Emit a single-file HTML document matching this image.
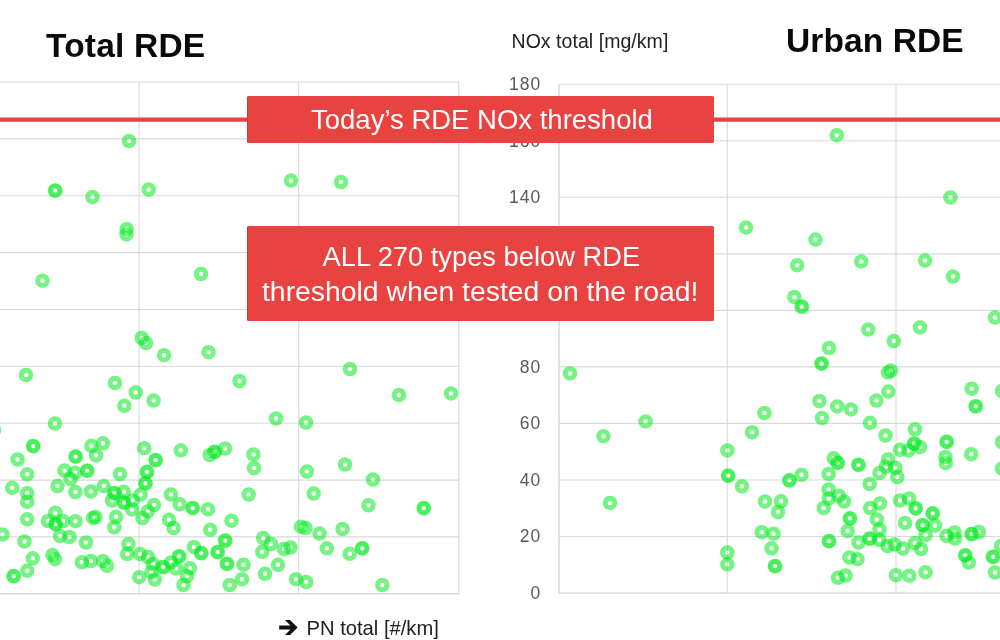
<!DOCTYPE html>
<html lang="en">
<head>
<meta charset="utf-8">
<title>RDE NOx vs PN</title>
<style>
html,body{margin:0;padding:0;background:#fff;}
body{width:1000px;height:640px;position:relative;overflow:hidden;font-family:"Liberation Sans",sans-serif;}
.chart{position:absolute;left:0;top:0;}
.t{position:absolute;white-space:nowrap;line-height:1;}
.title{font-weight:bold;font-size:33.5px;color:#0a0a0a;}
.ax{font-size:19.5px;color:#222;}
.yl{position:absolute;left:480px;width:61.2px;text-align:right;font-size:17.5px;line-height:19px;height:19px;color:#5a5a5c;letter-spacing:1px;}
.box{position:absolute;left:247px;width:467px;background:#e84341;color:#fff;border-radius:1.5px;box-shadow:inset 1px 0 0 rgba(160,40,40,0.35);}
.box .t{color:#fff;}
</style>
</head>
<body>
<svg class="chart" width="1000" height="640" viewBox="0 0 1000 640">
<line x1="0" y1="82.0" x2="459.3" y2="82.0" stroke="#d9d9d9" stroke-width="1.1"/>
<line x1="0" y1="138.9" x2="459.3" y2="138.9" stroke="#d9d9d9" stroke-width="1.1"/>
<line x1="0" y1="195.7" x2="459.3" y2="195.7" stroke="#d9d9d9" stroke-width="1.1"/>
<line x1="0" y1="252.6" x2="459.3" y2="252.6" stroke="#d9d9d9" stroke-width="1.1"/>
<line x1="0" y1="309.5" x2="459.3" y2="309.5" stroke="#d9d9d9" stroke-width="1.1"/>
<line x1="0" y1="366.3" x2="459.3" y2="366.3" stroke="#d9d9d9" stroke-width="1.1"/>
<line x1="0" y1="423.2" x2="459.3" y2="423.2" stroke="#d9d9d9" stroke-width="1.1"/>
<line x1="0" y1="480.1" x2="459.3" y2="480.1" stroke="#d9d9d9" stroke-width="1.1"/>
<line x1="0" y1="536.9" x2="459.3" y2="536.9" stroke="#d9d9d9" stroke-width="1.1"/>
<line x1="0" y1="593.8" x2="459.3" y2="593.8" stroke="#d9d9d9" stroke-width="1.5"/>
<line x1="139" y1="82" x2="139" y2="593.8" stroke="#d9d9d9" stroke-width="1.1"/>
<line x1="298.7" y1="82" x2="298.7" y2="593.8" stroke="#d9d9d9" stroke-width="1.1"/>
<line x1="458.8" y1="82" x2="458.8" y2="593.8" stroke="#d9d9d9" stroke-width="1.1"/>
<line x1="559" y1="84.3" x2="1000" y2="84.3" stroke="#d9d9d9" stroke-width="1.1"/>
<line x1="559" y1="140.8" x2="1000" y2="140.8" stroke="#d9d9d9" stroke-width="1.1"/>
<line x1="559" y1="197.3" x2="1000" y2="197.3" stroke="#d9d9d9" stroke-width="1.1"/>
<line x1="559" y1="253.9" x2="1000" y2="253.9" stroke="#d9d9d9" stroke-width="1.1"/>
<line x1="559" y1="310.4" x2="1000" y2="310.4" stroke="#d9d9d9" stroke-width="1.1"/>
<line x1="559" y1="366.9" x2="1000" y2="366.9" stroke="#d9d9d9" stroke-width="1.1"/>
<line x1="559" y1="423.4" x2="1000" y2="423.4" stroke="#d9d9d9" stroke-width="1.1"/>
<line x1="559" y1="480.0" x2="1000" y2="480.0" stroke="#d9d9d9" stroke-width="1.1"/>
<line x1="559" y1="536.5" x2="1000" y2="536.5" stroke="#d9d9d9" stroke-width="1.1"/>
<line x1="559" y1="593.0" x2="1000" y2="593.0" stroke="#d9d9d9" stroke-width="1.5"/>
<line x1="559" y1="84.3" x2="559" y2="593" stroke="#d9d9d9" stroke-width="1.5"/>
<line x1="727.3" y1="84.3" x2="727.3" y2="593" stroke="#d9d9d9" stroke-width="1.1"/>
<line x1="896" y1="84.3" x2="896" y2="593" stroke="#d9d9d9" stroke-width="1.1"/>
<line x1="0" y1="119.6" x2="1000" y2="119.6" stroke="#e84341" stroke-width="4.4"/>
<g fill="none" stroke="#00e81e" stroke-opacity="0.54" stroke-width="5" style="filter:blur(0.7px)">
<circle cx="129.0" cy="141.0" r="4.75"/>
<circle cx="55.0" cy="190.5" r="4.75"/>
<circle cx="55.5" cy="190.8" r="4.75" stroke-opacity="0.38"/>
<circle cx="92.5" cy="197.0" r="4.75"/>
<circle cx="148.7" cy="189.5" r="4.75"/>
<circle cx="126.7" cy="229.0" r="4.75"/>
<circle cx="126.5" cy="234.4" r="4.75"/>
<circle cx="42.5" cy="280.7" r="4.75"/>
<circle cx="201.0" cy="274.0" r="4.75"/>
<circle cx="291.0" cy="180.6" r="4.75"/>
<circle cx="341.0" cy="182.0" r="4.75"/>
<circle cx="141.7" cy="338.0" r="4.75"/>
<circle cx="146.0" cy="343.0" r="4.75"/>
<circle cx="164.0" cy="355.2" r="4.75"/>
<circle cx="208.5" cy="352.2" r="4.75"/>
<circle cx="239.5" cy="381.0" r="4.75"/>
<circle cx="26.0" cy="375.0" r="4.75"/>
<circle cx="115.0" cy="383.0" r="4.75"/>
<circle cx="135.7" cy="392.5" r="4.75"/>
<circle cx="153.6" cy="400.5" r="4.75"/>
<circle cx="124.3" cy="405.8" r="4.75"/>
<circle cx="350.0" cy="369.0" r="4.75"/>
<circle cx="399.0" cy="395.0" r="4.75"/>
<circle cx="451.0" cy="393.4" r="4.75"/>
<circle cx="276.0" cy="418.5" r="4.75"/>
<circle cx="306.0" cy="422.5" r="4.75"/>
<circle cx="55.0" cy="423.6" r="4.75"/>
<circle cx="-6.0" cy="430.0" r="4.75"/>
<circle cx="33.0" cy="446.0" r="4.75"/>
<circle cx="33.5" cy="446.3" r="4.75" stroke-opacity="0.38"/>
<circle cx="17.6" cy="459.5" r="4.75"/>
<circle cx="27.2" cy="474.3" r="4.75"/>
<circle cx="12.2" cy="487.8" r="4.75"/>
<circle cx="27.2" cy="493.2" r="4.75"/>
<circle cx="27.2" cy="501.8" r="4.75"/>
<circle cx="91.3" cy="445.8" r="4.75"/>
<circle cx="103.0" cy="443.3" r="4.75"/>
<circle cx="96.0" cy="455.4" r="4.75"/>
<circle cx="75.5" cy="456.5" r="4.75"/>
<circle cx="76.0" cy="456.8" r="4.75" stroke-opacity="0.38"/>
<circle cx="64.5" cy="470.5" r="4.75"/>
<circle cx="75.1" cy="472.8" r="4.75"/>
<circle cx="70.5" cy="479.0" r="4.75"/>
<circle cx="87.0" cy="470.6" r="4.75"/>
<circle cx="87.5" cy="470.90000000000003" r="4.75" stroke-opacity="0.38"/>
<circle cx="57.5" cy="486.1" r="4.75"/>
<circle cx="75.4" cy="492.0" r="4.75"/>
<circle cx="90.9" cy="491.4" r="4.75"/>
<circle cx="103.8" cy="486.1" r="4.75"/>
<circle cx="120.0" cy="474.0" r="4.75"/>
<circle cx="114.2" cy="493.0" r="4.75"/>
<circle cx="114.7" cy="493.3" r="4.75" stroke-opacity="0.38"/>
<circle cx="123.7" cy="491.8" r="4.75"/>
<circle cx="144.2" cy="448.2" r="4.75"/>
<circle cx="155.5" cy="460.0" r="4.75"/>
<circle cx="156.0" cy="460.3" r="4.75" stroke-opacity="0.38"/>
<circle cx="146.8" cy="471.8" r="4.75"/>
<circle cx="147.3" cy="472.1" r="4.75" stroke-opacity="0.38"/>
<circle cx="145.3" cy="483.2" r="4.75"/>
<circle cx="145.8" cy="483.5" r="4.75" stroke-opacity="0.38"/>
<circle cx="140.6" cy="494.6" r="4.75"/>
<circle cx="154.0" cy="505.0" r="4.75"/>
<circle cx="180.8" cy="450.3" r="4.75"/>
<circle cx="209.7" cy="455.0" r="4.75"/>
<circle cx="214.4" cy="451.7" r="4.75"/>
<circle cx="214.9" cy="452.0" r="4.75" stroke-opacity="0.38"/>
<circle cx="225.0" cy="448.6" r="4.75"/>
<circle cx="253.4" cy="454.4" r="4.75"/>
<circle cx="254.0" cy="468.0" r="4.75"/>
<circle cx="307.0" cy="471.5" r="4.75"/>
<circle cx="345.0" cy="464.5" r="4.75"/>
<circle cx="373.0" cy="479.5" r="4.75"/>
<circle cx="27.2" cy="519.3" r="4.75"/>
<circle cx="55.3" cy="512.7" r="4.75"/>
<circle cx="48.0" cy="521.0" r="4.75"/>
<circle cx="55.5" cy="524.0" r="4.75"/>
<circle cx="56.0" cy="524.3" r="4.75" stroke-opacity="0.38"/>
<circle cx="63.0" cy="521.0" r="4.75"/>
<circle cx="75.5" cy="521.2" r="4.75"/>
<circle cx="93.0" cy="518.0" r="4.75"/>
<circle cx="95.5" cy="517.0" r="4.75"/>
<circle cx="2.5" cy="534.5" r="4.75"/>
<circle cx="24.5" cy="541.5" r="4.75"/>
<circle cx="60.0" cy="536.0" r="4.75"/>
<circle cx="69.5" cy="537.0" r="4.75"/>
<circle cx="86.0" cy="542.5" r="4.75"/>
<circle cx="112.0" cy="500.5" r="4.75"/>
<circle cx="123.8" cy="502.5" r="4.75"/>
<circle cx="124.3" cy="502.8" r="4.75" stroke-opacity="0.38"/>
<circle cx="132.5" cy="500.5" r="4.75"/>
<circle cx="132.0" cy="509.5" r="4.75"/>
<circle cx="147.8" cy="511.5" r="4.75"/>
<circle cx="142.5" cy="518.0" r="4.75"/>
<circle cx="116.0" cy="516.8" r="4.75"/>
<circle cx="114.3" cy="527.3" r="4.75"/>
<circle cx="170.9" cy="494.5" r="4.75"/>
<circle cx="179.7" cy="504.3" r="4.75"/>
<circle cx="192.5" cy="507.9" r="4.75"/>
<circle cx="193.0" cy="508.2" r="4.75" stroke-opacity="0.38"/>
<circle cx="169.0" cy="519.8" r="4.75"/>
<circle cx="173.5" cy="528.0" r="4.75"/>
<circle cx="128.5" cy="544.0" r="4.75"/>
<circle cx="194.0" cy="547.0" r="4.75"/>
<circle cx="32.8" cy="558.3" r="4.75"/>
<circle cx="27.2" cy="570.8" r="4.75"/>
<circle cx="13.5" cy="576.0" r="4.75"/>
<circle cx="14.0" cy="576.3" r="4.75" stroke-opacity="0.38"/>
<circle cx="52.5" cy="555.0" r="4.75"/>
<circle cx="55.0" cy="559.2" r="4.75"/>
<circle cx="81.8" cy="562.3" r="4.75"/>
<circle cx="90.8" cy="561.0" r="4.75"/>
<circle cx="103.0" cy="561.0" r="4.75"/>
<circle cx="107.0" cy="565.8" r="4.75"/>
<circle cx="127.2" cy="554.0" r="4.75"/>
<circle cx="140.0" cy="554.0" r="4.75"/>
<circle cx="148.0" cy="557.0" r="4.75"/>
<circle cx="153.0" cy="564.0" r="4.75"/>
<circle cx="163.0" cy="567.0" r="4.75"/>
<circle cx="163.5" cy="567.3" r="4.75" stroke-opacity="0.38"/>
<circle cx="151.5" cy="572.0" r="4.75"/>
<circle cx="139.2" cy="577.2" r="4.75"/>
<circle cx="154.8" cy="579.5" r="4.75"/>
<circle cx="179.0" cy="556.2" r="4.75"/>
<circle cx="179.5" cy="556.5" r="4.75" stroke-opacity="0.38"/>
<circle cx="171.0" cy="562.5" r="4.75"/>
<circle cx="176.0" cy="568.5" r="4.75"/>
<circle cx="190.0" cy="568.2" r="4.75"/>
<circle cx="187.0" cy="576.0" r="4.75"/>
<circle cx="183.5" cy="585.0" r="4.75"/>
<circle cx="201.0" cy="553.0" r="4.75"/>
<circle cx="201.5" cy="553.3" r="4.75" stroke-opacity="0.38"/>
<circle cx="248.7" cy="494.5" r="4.75"/>
<circle cx="208.0" cy="509.2" r="4.75"/>
<circle cx="231.5" cy="520.7" r="4.75"/>
<circle cx="210.2" cy="529.8" r="4.75"/>
<circle cx="225.0" cy="540.5" r="4.75"/>
<circle cx="225.5" cy="540.8" r="4.75" stroke-opacity="0.38"/>
<circle cx="263.2" cy="538.0" r="4.75"/>
<circle cx="271.0" cy="544.0" r="4.75"/>
<circle cx="301.0" cy="526.7" r="4.75"/>
<circle cx="305.5" cy="528.0" r="4.75"/>
<circle cx="217.5" cy="552.0" r="4.75"/>
<circle cx="218.0" cy="552.3" r="4.75" stroke-opacity="0.38"/>
<circle cx="226.8" cy="563.7" r="4.75"/>
<circle cx="227.3" cy="564.0" r="4.75" stroke-opacity="0.38"/>
<circle cx="243.5" cy="564.7" r="4.75"/>
<circle cx="242.0" cy="579.2" r="4.75"/>
<circle cx="229.7" cy="585.0" r="4.75"/>
<circle cx="262.2" cy="551.8" r="4.75"/>
<circle cx="284.0" cy="549.0" r="4.75"/>
<circle cx="290.5" cy="547.5" r="4.75"/>
<circle cx="278.0" cy="564.8" r="4.75"/>
<circle cx="265.0" cy="573.8" r="4.75"/>
<circle cx="296.0" cy="579.2" r="4.75"/>
<circle cx="313.7" cy="493.6" r="4.75"/>
<circle cx="368.5" cy="505.3" r="4.75"/>
<circle cx="319.5" cy="533.6" r="4.75"/>
<circle cx="342.5" cy="529.0" r="4.75"/>
<circle cx="326.8" cy="548.3" r="4.75"/>
<circle cx="349.7" cy="553.8" r="4.75"/>
<circle cx="362.0" cy="548.2" r="4.75"/>
<circle cx="362.5" cy="548.5" r="4.75" stroke-opacity="0.38"/>
<circle cx="306.2" cy="582.0" r="4.75"/>
<circle cx="382.3" cy="585.0" r="4.75"/>
<circle cx="423.6" cy="508.0" r="4.75"/>
<circle cx="424.1" cy="508.3" r="4.75" stroke-opacity="0.38"/>
<circle cx="836.8" cy="135.2" r="4.75"/>
<circle cx="746.0" cy="227.6" r="4.75"/>
<circle cx="815.5" cy="239.6" r="4.75"/>
<circle cx="950.4" cy="197.4" r="4.75"/>
<circle cx="797.2" cy="265.2" r="4.75"/>
<circle cx="861.2" cy="261.4" r="4.75"/>
<circle cx="925.0" cy="260.6" r="4.75"/>
<circle cx="953.0" cy="276.6" r="4.75"/>
<circle cx="794.4" cy="297.0" r="4.75"/>
<circle cx="801.6" cy="306.6" r="4.75"/>
<circle cx="802.1" cy="306.90000000000003" r="4.75" stroke-opacity="0.38"/>
<circle cx="995.0" cy="317.6" r="4.75"/>
<circle cx="868.2" cy="329.6" r="4.75"/>
<circle cx="920.0" cy="327.4" r="4.75"/>
<circle cx="893.8" cy="341.0" r="4.75"/>
<circle cx="829.0" cy="348.0" r="4.75"/>
<circle cx="821.4" cy="363.4" r="4.75"/>
<circle cx="821.9" cy="363.7" r="4.75" stroke-opacity="0.38"/>
<circle cx="891.0" cy="370.6" r="4.75"/>
<circle cx="888.0" cy="372.5" r="4.75"/>
<circle cx="570.0" cy="373.4" r="4.75"/>
<circle cx="645.6" cy="421.4" r="4.75"/>
<circle cx="603.4" cy="436.2" r="4.75"/>
<circle cx="610.0" cy="502.9" r="4.75"/>
<circle cx="764.4" cy="413.0" r="4.75"/>
<circle cx="752.0" cy="432.2" r="4.75"/>
<circle cx="727.4" cy="450.4" r="4.75"/>
<circle cx="728.0" cy="475.6" r="4.75"/>
<circle cx="728.5" cy="475.90000000000003" r="4.75" stroke-opacity="0.38"/>
<circle cx="742.0" cy="486.3" r="4.75"/>
<circle cx="819.4" cy="401.0" r="4.75"/>
<circle cx="822.0" cy="418.0" r="4.75"/>
<circle cx="837.2" cy="406.4" r="4.75"/>
<circle cx="851.0" cy="409.4" r="4.75"/>
<circle cx="876.4" cy="400.6" r="4.75"/>
<circle cx="888.4" cy="391.6" r="4.75"/>
<circle cx="870.0" cy="422.8" r="4.75"/>
<circle cx="885.5" cy="435.5" r="4.75"/>
<circle cx="833.7" cy="458.3" r="4.75"/>
<circle cx="837.5" cy="462.8" r="4.75"/>
<circle cx="838.0" cy="463.1" r="4.75" stroke-opacity="0.38"/>
<circle cx="828.7" cy="474.0" r="4.75"/>
<circle cx="858.3" cy="464.7" r="4.75"/>
<circle cx="858.8" cy="465.0" r="4.75" stroke-opacity="0.38"/>
<circle cx="888.1" cy="459.2" r="4.75"/>
<circle cx="879.5" cy="473.0" r="4.75"/>
<circle cx="886.0" cy="466.5" r="4.75"/>
<circle cx="895.3" cy="467.7" r="4.75"/>
<circle cx="869.7" cy="484.0" r="4.75"/>
<circle cx="897.3" cy="477.0" r="4.75"/>
<circle cx="900.0" cy="449.8" r="4.75"/>
<circle cx="789.2" cy="480.3" r="4.75"/>
<circle cx="789.7" cy="480.6" r="4.75" stroke-opacity="0.38"/>
<circle cx="801.5" cy="474.8" r="4.75"/>
<circle cx="828.6" cy="489.5" r="4.75"/>
<circle cx="971.7" cy="388.7" r="4.75"/>
<circle cx="975.5" cy="406.2" r="4.75"/>
<circle cx="976.0" cy="406.5" r="4.75" stroke-opacity="0.38"/>
<circle cx="1002.0" cy="391.0" r="4.75"/>
<circle cx="915.0" cy="429.3" r="4.75"/>
<circle cx="914.0" cy="443.5" r="4.75"/>
<circle cx="914.5" cy="443.8" r="4.75" stroke-opacity="0.38"/>
<circle cx="908.5" cy="450.5" r="4.75"/>
<circle cx="920.0" cy="447.0" r="4.75"/>
<circle cx="946.5" cy="441.7" r="4.75"/>
<circle cx="947.0" cy="442.0" r="4.75" stroke-opacity="0.38"/>
<circle cx="945.5" cy="457.0" r="4.75"/>
<circle cx="945.8" cy="463.2" r="4.75"/>
<circle cx="971.2" cy="454.2" r="4.75"/>
<circle cx="1002.0" cy="442.0" r="4.75"/>
<circle cx="1002.0" cy="468.5" r="4.75"/>
<circle cx="765.0" cy="501.5" r="4.75"/>
<circle cx="781.0" cy="501.3" r="4.75"/>
<circle cx="778.0" cy="512.0" r="4.75"/>
<circle cx="761.7" cy="532.2" r="4.75"/>
<circle cx="773.5" cy="533.7" r="4.75"/>
<circle cx="771.5" cy="548.3" r="4.75"/>
<circle cx="774.8" cy="566.0" r="4.75"/>
<circle cx="775.3" cy="566.3" r="4.75" stroke-opacity="0.38"/>
<circle cx="727.3" cy="552.5" r="4.75"/>
<circle cx="727.3" cy="564.3" r="4.75"/>
<circle cx="828.8" cy="498.5" r="4.75"/>
<circle cx="839.0" cy="495.8" r="4.75"/>
<circle cx="844.0" cy="501.5" r="4.75"/>
<circle cx="823.7" cy="508.0" r="4.75"/>
<circle cx="849.7" cy="518.3" r="4.75"/>
<circle cx="850.2" cy="518.5999999999999" r="4.75" stroke-opacity="0.38"/>
<circle cx="847.7" cy="531.0" r="4.75"/>
<circle cx="880.0" cy="503.5" r="4.75"/>
<circle cx="870.2" cy="508.0" r="4.75"/>
<circle cx="876.8" cy="519.5" r="4.75"/>
<circle cx="879.5" cy="529.5" r="4.75"/>
<circle cx="900.0" cy="500.5" r="4.75"/>
<circle cx="909.0" cy="498.5" r="4.75"/>
<circle cx="915.5" cy="508.2" r="4.75"/>
<circle cx="916.0" cy="508.5" r="4.75" stroke-opacity="0.38"/>
<circle cx="932.5" cy="513.3" r="4.75"/>
<circle cx="933.0" cy="513.5999999999999" r="4.75" stroke-opacity="0.38"/>
<circle cx="905.0" cy="523.0" r="4.75"/>
<circle cx="922.5" cy="525.0" r="4.75"/>
<circle cx="923.0" cy="525.3" r="4.75" stroke-opacity="0.38"/>
<circle cx="935.0" cy="525.5" r="4.75"/>
<circle cx="925.5" cy="535.0" r="4.75"/>
<circle cx="946.5" cy="535.8" r="4.75"/>
<circle cx="954.5" cy="532.5" r="4.75"/>
<circle cx="955.0" cy="538.5" r="4.75"/>
<circle cx="971.5" cy="534.0" r="4.75"/>
<circle cx="972.0" cy="534.3" r="4.75" stroke-opacity="0.38"/>
<circle cx="979.0" cy="532.0" r="4.75"/>
<circle cx="887.5" cy="546.0" r="4.75"/>
<circle cx="894.5" cy="544.5" r="4.75"/>
<circle cx="903.0" cy="548.5" r="4.75"/>
<circle cx="915.0" cy="543.0" r="4.75"/>
<circle cx="921.0" cy="549.0" r="4.75"/>
<circle cx="828.8" cy="541.0" r="4.75"/>
<circle cx="829.3" cy="541.3" r="4.75" stroke-opacity="0.38"/>
<circle cx="858.5" cy="542.5" r="4.75"/>
<circle cx="869.5" cy="538.5" r="4.75"/>
<circle cx="870.0" cy="538.8" r="4.75" stroke-opacity="0.38"/>
<circle cx="879.5" cy="540.0" r="4.75"/>
<circle cx="849.5" cy="557.5" r="4.75"/>
<circle cx="857.5" cy="559.2" r="4.75"/>
<circle cx="838.0" cy="577.8" r="4.75"/>
<circle cx="845.5" cy="575.5" r="4.75"/>
<circle cx="895.8" cy="575.2" r="4.75"/>
<circle cx="925.5" cy="572.3" r="4.75"/>
<circle cx="909.3" cy="575.7" r="4.75"/>
<circle cx="965.0" cy="555.2" r="4.75"/>
<circle cx="965.5" cy="555.5" r="4.75" stroke-opacity="0.38"/>
<circle cx="968.8" cy="562.5" r="4.75"/>
<circle cx="992.8" cy="556.8" r="4.75"/>
<circle cx="993.3" cy="557.0999999999999" r="4.75" stroke-opacity="0.38"/>
<circle cx="995.0" cy="572.5" r="4.75"/>
<circle cx="1001.0" cy="546.0" r="4.75"/>
</g>
</svg>
<div class="yl" style="top:75.0px">180</div>
<div class="yl" style="top:131.5px">160</div>
<div class="yl" style="top:188.0px">140</div>
<div class="yl" style="top:357.6px">80</div>
<div class="yl" style="top:414.1px">60</div>
<div class="yl" style="top:470.7px">40</div>
<div class="yl" style="top:527.2px">20</div>
<div class="yl" style="top:583.7px">0</div>
<div class="t title" id="t1" style="left:46px;top:29px;letter-spacing:0.2px;">Total RDE</div>
<div class="t title" id="t2" style="left:786px;top:24px;letter-spacing:0.1px;">Urban RDE</div>
<div class="t ax" id="t3" style="left:511.5px;top:31.5px;letter-spacing:0.05px;">NOx total [mg/km]</div>
<svg class="arrow" width="24" height="20" viewBox="276 618 24 20" style="position:absolute;left:276px;top:618px;"><path d="M285 620.1 L290 620.1 L297.6 627.6 L290 635 L285 635 L290.4 629.6 L279.2 629.6 L279.2 625.6 L290.4 625.6 Z" fill="#111"/></svg>
<div class="t ax" id="t4" style="left:306.5px;top:617.5px;font-size:20.2px;">PN total [#/km]</div>
<div class="box" style="top:96.3px;height:46.8px;"><div class="t" id="b1" style="left:64px;top:9.7px;font-size:27.5px;">Today’s RDE NOx threshold</div></div>
<div class="box" style="top:226.2px;height:94.4px;"><div class="t" id="b2" style="left:75.5px;top:16.8px;font-size:27.3px;">ALL 270 types below RDE</div><div class="t" id="b3" style="left:15px;top:50.8px;font-size:28.35px;">threshold when tested on the road!</div></div>
</body>
</html>
